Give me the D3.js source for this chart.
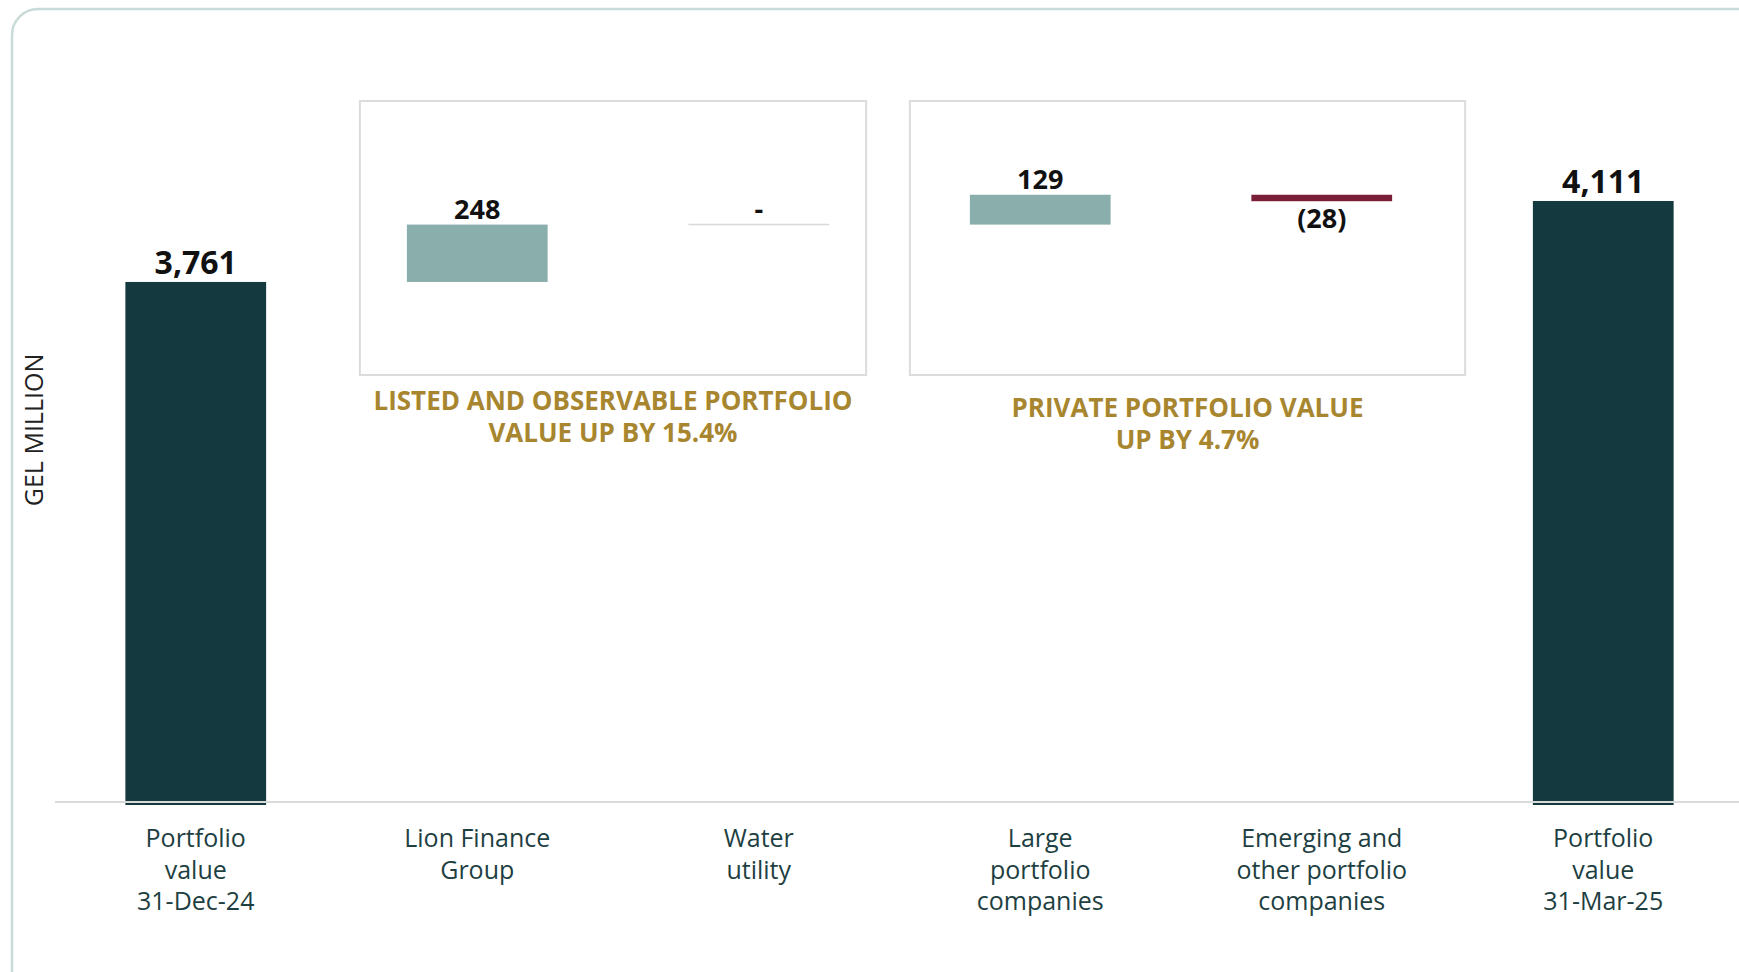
<!DOCTYPE html>
<html>
<head>
<meta charset="utf-8">
<script src="https://cdn.jsdelivr.net/npm/d3@7"></script>
<style>
  body { margin: 0; background: #fff; }
  svg { display: block; font-family: "Open Sans", sans-serif; }
</style>
</head>
<body>
<script>
// chart data
var categories = [
  ["Portfolio", "value", "31-Dec-24"],
  ["Lion Finance", "Group"],
  ["Water", "utility"],
  ["Large", "portfolio", "companies"],
  ["Emerging and", "other portfolio", "companies"],
  ["Portfolio", "value", "31-Mar-25"]
];
var barKinds = ["total", "delta", "delta", "delta", "delta", "total"];
var barValues = [3761, 248, 0, 129, -28, 4111];
var groupTitles = [
  ["LISTED AND OBSERVABLE PORTFOLIO", "VALUE UP BY 15.4%"],
  ["PRIVATE PORTFOLIO VALUE", "UP BY 4.7%"]
];
var groupMembers = [[1, 2], [3, 4]];
var yAxisTitle = "GEL MILLION";

var W = 1739, H = 972;
var axisY = 802;

var svg = d3.select("body").append("svg")
    .attr("width", W)
    .attr("height", H);

// card outline
svg.append("rect")
    .attr("x", 12).attr("y", 9)
    .attr("width", W + 40).attr("height", H + 40)
    .attr("rx", 26)
    .style("fill", "#fff")
    .style("stroke", "#c9dbd8")
    .style("stroke-width", 2.5);

var xScale = d3.scaleBand()
    .domain(d3.range(categories.length))
    .range([55, 1744])
    .paddingInner(0.5)
    .paddingOuter(0.25);

var yScale = d3.scaleLinear()
    .domain([1500, 4500])
    .range([805, 111]);

// waterfall steps
var running = 0;
var bars = barValues.map(function(v, i) {
  var d = {i: i, value: v, kind: barKinds[i]};
  if (d.kind == "total") {
    d.y0 = 1500; d.y1 = v; running = v;
  } else {
    d.y0 = running; d.y1 = running + v; running = running + v;
  }
  return d;
});

function barColor(d) {
  if (d.kind == "total") return "#143a40";
  return d.value >= 0 ? "#8aaeab" : "#7b1f38";
}

function labelText(d) {
  if (d.value == 0) return "-";
  if (d.value < 0) return "(" + d3.format(",")(-d.value) + ")";
  return d3.format(",")(d.value);
}

// group boxes
var boxPad = [[47, 37], [60, 73]];
groupMembers.forEach(function(m, k) {
  var x0 = xScale(m[0]) - boxPad[k][0];
  var x1 = xScale(m[1]) + xScale.bandwidth() + boxPad[k][1];
  svg.append("rect")
    .attr("x", x0).attr("y", 101)
    .attr("width", x1 - x0).attr("height", 274)
    .style("fill", "none")
    .style("stroke", "#dcdcdc")
    .style("stroke-width", 2);
  var t = svg.append("text")
    .attr("x", (x0 + x1) / 2)
    .attr("y", k == 0 ? 410 : 417)
    .style("text-anchor", "middle")
    .style("font-weight", "bold")
    .style("font-size", "26px")
    .style("fill", "#a8862f");
  groupTitles[k].forEach(function(line, j) {
    t.append("tspan")
      .attr("x", (x0 + x1) / 2)
      .attr("dy", j == 0 ? 0 : 32)
      .text(line);
  });
});

// bars
svg.selectAll(".bar")
    .data(bars.filter(function(d) { return d.value != 0; }))
    .enter().append("rect")
    .attr("class", "bar")
    .attr("x", function(d) { return xScale(d.i); })
    .attr("width", xScale.bandwidth())
    .attr("y", function(d) { return yScale(Math.max(d.y0, d.y1)); })
    .attr("height", function(d) { return Math.abs(yScale(d.y0) - yScale(d.y1)); })
    .style("fill", barColor);

// zero change marker
svg.selectAll(".zero")
    .data(bars.filter(function(d) { return d.value == 0; }))
    .enter().append("line")
    .attr("x1", function(d) { return xScale(d.i); })
    .attr("x2", function(d) { return xScale(d.i) + xScale.bandwidth(); })
    .attr("y1", function(d) { return yScale(d.y1); })
    .attr("y2", function(d) { return yScale(d.y1); })
    .style("stroke", "#d9d9d9")
    .style("stroke-width", 1.5);

// baseline
svg.append("line")
    .attr("x1", 55).attr("x2", W)
    .attr("y1", axisY).attr("y2", axisY)
    .style("stroke", "#d9d9d9")
    .style("stroke-width", 2);

// value labels
svg.selectAll(".val")
    .data(bars)
    .enter().append("text")
    .attr("class", "val")
    .attr("x", function(d) { return xScale(d.i) + xScale.bandwidth() / 2; })
    .attr("y", function(d) {
      if (d.value < 0) return yScale(d.y1) + 27;
      return yScale(Math.max(d.y0, d.y1)) - (d.kind == "total" ? 8 : 6);
    })
    .style("text-anchor", "middle")
    .style("font-weight", "bold")
    .style("font-size", function(d) { return d.kind == "total" ? "32px" : "27px"; })
    .style("fill", "#111")
    .text(labelText);

// category labels
var cat = svg.selectAll(".cat")
    .data(categories)
    .enter().append("text")
    .attr("class", "cat")
    .attr("y", 847)
    .style("text-anchor", "middle")
    .style("font-size", "25px")
    .style("fill", "#1e3f42");

cat.each(function(lines, i) {
  var cx = xScale(i) + xScale.bandwidth() / 2;
  d3.select(this).selectAll("tspan")
    .data(lines)
    .enter().append("tspan")
    .attr("x", cx)
    .attr("dy", function(d, j) { return j == 0 ? 0 : 31.5; })
    .text(function(d) { return d; });
});

// y axis title
svg.append("text")
    .attr("transform", "translate(43,430) rotate(-90)")
    .style("text-anchor", "middle")
    .style("font-size", "25px")
    .style("fill", "#222")
    .text(yAxisTitle);
</script>
</body>
</html>
